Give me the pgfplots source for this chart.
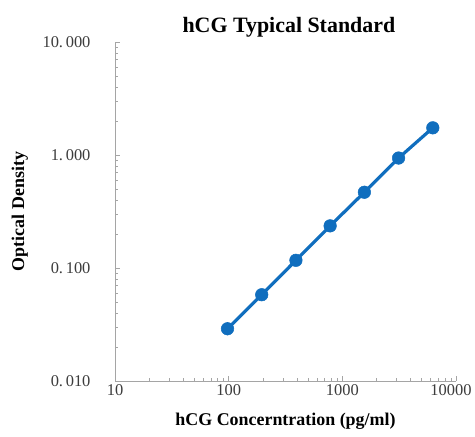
\documentclass[border=0pt]{standalone}
\usepackage{pgfplots}
\pgfplotsset{compat=1.18}
\usepackage{fontspec}
\setmainfont{Liberation Serif}
\definecolor{lineblue}{RGB}{16,110,190}
\definecolor{axisgray}{RGB}{165,165,165}
\definecolor{ticktext}{RGB}{60,60,60}
\begin{document}
\begin{tikzpicture}
\begin{axis}[
    scale only axis,
    width=341bp, height=339bp,
    xmode=log, ymode=log,
    xmin=10, xmax=10000,
    ymin=0.01, ymax=10,
    axis lines*=left,
    axis line style={axisgray, line width=0.8bp},
    tick style={axisgray, line width=0.6bp},
    tick align=inside,
    major tick length=5bp,
    minor tick length=3bp,
    xtick={10,100,1000,10000},
    xticklabels={{10},{100},{1000},{\hspace*{-10bp}10000}},
    ytick={0.01,0.1,1,10},
    yticklabels={{0.\,010},{0.\,100},{1.\,000},{10.\,000}},
    ticklabel style={font=\fontsize{16.5}{20}\selectfont, text=ticktext},
    yticklabel style={xshift=-21bp},
    title={hCG Typical Standard},
    title style={font=\bfseries\fontsize{22}{26}\selectfont, at={(axis description cs:0.51,1.026)}, anchor=center},
    xlabel={hCG Concerntration (pg/ml)},
    xlabel style={font=\bfseries\fontsize{18}{21}\selectfont, at={(axis description cs:0.5,-0.118)}, anchor=center},
    ylabel={Optical Density},
    ylabel style={font=\bfseries\fontsize{18}{21}\selectfont, at={(axis description cs:-0.279,0.5)}, anchor=center},
]
\addplot[color=lineblue, line width=3.2bp, mark=*, mark size=6.3bp, mark options={fill=lineblue, draw=lineblue, line width=0.5bp}]
coordinates {
    (97.66, 0.029)
    (195.3, 0.058)
    (390.6, 0.117)
    (781.25, 0.236)
    (1562.5, 0.468)
    (3125, 0.94)
    (6250, 1.74)
};
\end{axis}
\pgfresetboundingbox
\path ([shift={(-115bp,-56bp)}]current axis.south west) rectangle ([shift={(19bp,42bp)}]current axis.north east);
\end{tikzpicture}
\end{document}
